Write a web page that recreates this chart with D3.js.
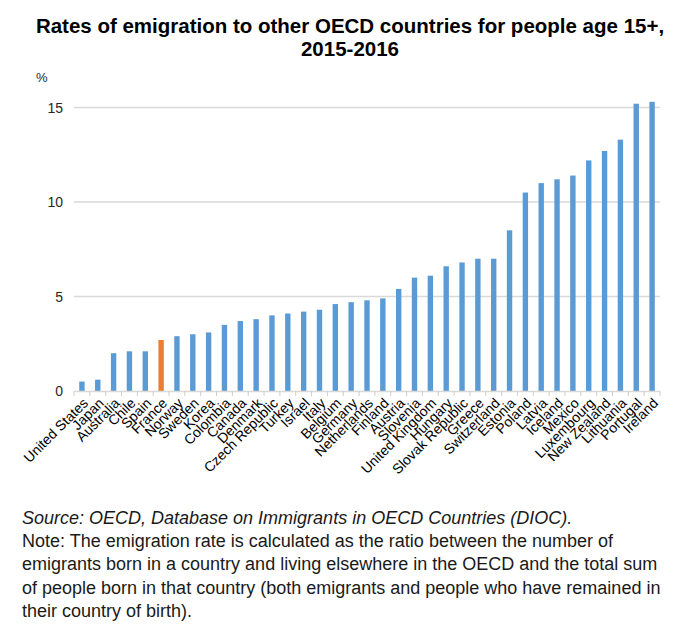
<!DOCTYPE html>
<html>
<head>
<meta charset="utf-8">
<script src="https://cdn.jsdelivr.net/npm/d3@7"></script>
<style>
  html, body { margin: 0; padding: 0; background: #fff; }
  svg { display: block; }
</style>
</head>
<body>
<svg id="chart" width="682" height="626"></svg>
<script>
const countries = ["United States","Japan","Australia","Chile","Spain","France","Norway","Sweden","Korea","Colombia","Canada","Denmark","Czech Republic","Turkey","Israel","Italy","Belgium","Germany","Netherlands","Finland","Austria","Slovenia","United Kingdom","Hungary","Slovak Republic","Greece","Switzerland","Estonia","Poland","Latvia","Iceland","Mexico","Luxembourg","New Zealand","Lithuania","Portugal","Ireland"];
const rates = [0.5,0.6,2.0,2.1,2.1,2.7,2.9,3.0,3.1,3.5,3.7,3.8,4.0,4.1,4.2,4.3,4.6,4.7,4.8,4.9,5.4,6.0,6.1,6.6,6.8,7.0,7.0,8.5,10.5,11.0,11.2,11.4,12.2,12.7,13.3,15.2,15.3];
const highlighted = ["France"];
const yTicks = [0,5,10,15];
const titleLines = ["Rates of emigration to other OECD countries for people age 15+,", "2015-2016"];
const unitLabel = "%";
const noteLines = [
  {text: "Source: OECD, Database on Immigrants in OECD Countries (DIOC).", italic: true},
  {text: "Note: The emigration rate is calculated as the ratio between the number of", italic: false},
  {text: "emigrants born in a country and living elsewhere in the OECD and the total sum", italic: false},
  {text: "of people born in that country (both emigrants and people who have remained in", italic: false},
  {text: "their country of birth).", italic: false}
];

const svg = d3.select("#chart");
const font = "'Liberation Sans', Arial, sans-serif";

const x = d3.scaleBand().domain(countries).range([74, 660]).paddingInner(0.66).paddingOuter(0.33);
const y = d3.scaleLinear().domain([0, 15]).range([391, 107.5]);

// title
svg.append("g").selectAll("text").data(titleLines).join("text")
  .attr("x", 350).attr("y", (d, i) => 33 + i * 23)
  .attr("text-anchor", "middle")
  .style("font-family", font).style("font-weight", "bold").style("font-size", "20.5px")
  .attr("fill", "#000").text(d => d);

// gridlines
svg.append("g").selectAll("line").data(yTicks.filter(d => d > 0)).join("line")
  .attr("x1", 74).attr("x2", 660)
  .attr("y1", d => y(d)).attr("y2", d => y(d))
  .attr("stroke", "#d9d9d9").attr("stroke-width", 1.3);

// y axis labels
const yAxis = d3.axisLeft(y).tickValues(yTicks).tickSize(0).tickPadding(0);
const gy = svg.append("g").attr("transform", "translate(63,0)").call(yAxis);
gy.select(".domain").remove();
gy.selectAll("text").style("font-family", font).style("font-size", "14px").attr("fill", "#262626").attr("dy", "0.35em");

svg.append("text").attr("x", 36).attr("y", 82).text(unitLabel)
  .style("font-family", font).style("font-size", "13px").attr("fill", "#262626");

// bars
svg.append("g").selectAll("rect").data(countries).join("rect")
  .attr("x", d => x(d)).attr("width", x.bandwidth())
  .attr("y", (d, i) => y(rates[i])).attr("height", (d, i) => y(0) - y(rates[i]))
  .attr("fill", d => highlighted.includes(d) ? "#ed7d31" : "#5b9bd5");

// x axis line and ticks
const step = x.step();
svg.append("line").attr("x1", 74).attr("x2", 660).attr("y1", y(0) + 0.5).attr("y2", y(0) + 0.5)
  .attr("stroke", "#d9d9d9").attr("stroke-width", 1.3);
svg.append("g").selectAll("line").data(d3.range(countries.length + 1)).join("line")
  .attr("x1", i => 74 + i * step).attr("x2", i => 74 + i * step)
  .attr("y1", y(0)).attr("y2", y(0) + 5)
  .attr("stroke", "#d6cbc0").attr("stroke-width", 1);

// x labels
svg.append("g").selectAll("text").data(countries).join("text")
  .attr("transform", d => `translate(${x(d) + x.bandwidth() / 2 + 7},${y(0) + 13}) rotate(-45)`)
  .attr("text-anchor", "end")
  .style("font-family", font).style("font-size", "14px")
  .attr("fill", "#000").text(d => d);

// notes
svg.append("g").selectAll("text").data(noteLines).join("text")
  .attr("x", 22).attr("y", (d, i) => 524 + i * 23.2)
  .style("font-family", font).style("font-size", "18px")
  .style("font-style", d => d.italic ? "italic" : "normal")
  .attr("fill", "#1a1a1a").text(d => d.text);
</script>
</body>
</html>
